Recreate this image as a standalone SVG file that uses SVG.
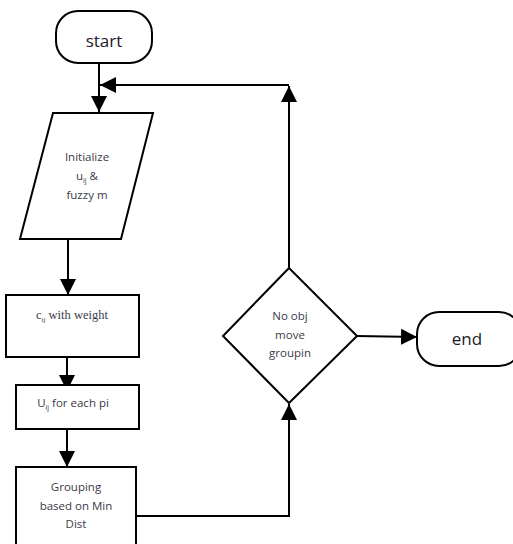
<svg xmlns="http://www.w3.org/2000/svg" width="513" height="544" viewBox="0 0 513 544">
<style>
.s{fill:#fff;stroke:#000;stroke-width:2}
.c{fill:none;stroke:#000;stroke-width:2}
.t{font-family:"Open Sans","Noto Sans",sans-serif;font-size:11.5px;fill:#3a3a48;text-anchor:middle}
.big{font-family:"Open Sans","Noto Sans",sans-serif;font-size:17px;fill:#1a1a2a;text-anchor:middle}
.serif{font-family:"Liberation Serif",serif;font-size:12.5px;fill:#3a3a48;text-anchor:middle}
.sub{font-size:7px}
</style>
<defs>
<marker id="ah" viewBox="0 0 10 10" refX="10" refY="5" markerWidth="8" markerHeight="8" markerUnits="userSpaceOnUse" orient="auto">
<path d="M0,0 L10,5 L0,10 z" fill="#000"/>
</marker>
<marker id="a" viewBox="0 0 16 16" refX="16" refY="8" markerWidth="16" markerHeight="16" markerUnits="userSpaceOnUse" orient="auto">
<path d="M0,0 L16,8 L0,16 z" fill="#000"/>
</marker>
</defs>
<g id="connectors">
<line class="c" x1="99" y1="63" x2="99" y2="112" marker-end="url(#a)"/>
<polyline class="c" points="289,268 289,86"  marker-end="url(#a)"/>
<line class="c" x1="289" y1="85" x2="100" y2="85" marker-end="url(#a)"/>
<line class="c" x1="68" y1="239" x2="68" y2="295" marker-end="url(#a)"/>
<line class="c" x1="67" y1="357" x2="67" y2="391" marker-end="url(#a)"/>
<line class="c" x1="67" y1="417" x2="67" y2="467" marker-end="url(#a)"/>
<polyline class="c" points="136,516 289,516 289,404" marker-end="url(#a)"/>
<line class="c" x1="357" y1="336" x2="417" y2="337" marker-end="url(#a)"/>
</g>
<g id="start">
<rect class="s" x="56" y="11" width="96" height="52" rx="22"/>
<text class="big" x="104" y="47">start</text>
</g>
<g id="initialize">
<polygon class="s" points="53,113 153,113 121,239 20,239"/>
<text class="t" x="87" y="161">Initialize</text>
<text class="t" x="87" y="180">u<tspan class="sub" dy="3">ij</tspan><tspan dy="-3"> &amp;</tspan></text>
<text class="t" x="87" y="199">fuzzy m</text>
</g>
<g id="cij">
<rect class="s" x="6" y="295" width="133" height="62"/>
<text class="serif" x="72" y="319">c<tspan class="sub" dy="3">ij</tspan><tspan dy="-3"> with weight</tspan></text>
</g>
<g id="uij">
<rect class="s" x="16" y="385" width="123" height="44"/>
<text class="t" x="73" y="407">U<tspan class="sub" dy="3">ij</tspan><tspan dy="-3"> for each pi</tspan></text>
</g>
<g id="grouping">
<rect class="s" x="16" y="467" width="120" height="90"/>
<text class="t" x="76" y="491">Grouping</text>
<text class="t" x="76" y="510">based on Min</text>
<text class="t" x="76" y="528">Dist</text>
</g>
<g id="decision">
<polygon class="s" points="289,268 357,336 289,403 223,336"/>
<text class="t" x="290" y="320">No obj</text>
<text class="t" x="290" y="339">move</text>
<text class="t" x="290" y="357">groupin</text>
</g>
<g id="end">
<rect class="s" x="417" y="312" width="104" height="54" rx="22"/>
<text class="big" x="467" y="345">end</text>
</g>
</svg>
